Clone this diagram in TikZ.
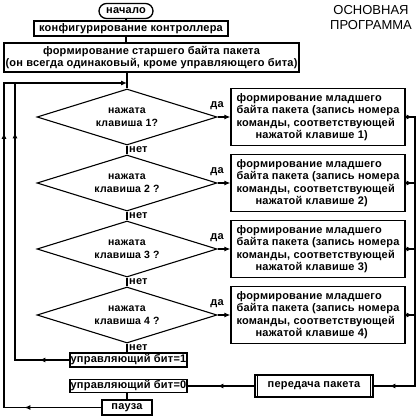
\documentclass[tikz,border=0pt]{standalone}
\usepackage{fontspec}
\setmainfont{Liberation Sans}[LetterSpace=2]
\newfontfamily\titlefont{Liberation Sans}
\usetikzlibrary{shapes.geometric,shapes.misc,arrows.meta,decorations.markings}
\begin{document}
\begin{tikzpicture}[x=1pt,y=-1pt,
  font=\fontsize{11}{12.4}\selectfont\bfseries,
  box/.style={draw,line width=1.3pt,inner sep=0pt,minimum height=15pt},
  dia/.style={draw,diamond,line width=1.1pt,inner sep=0pt,minimum width=180pt,minimum height=56pt},
  conn/.style={line width=1.1pt},
  tip/.style={-{Latex[length=6pt,width=5pt]}},
  marr/.style={postaction={decorate,decoration={markings,mark=at position #1 with {\arrow{Latex[length=6pt,width=5pt]}}}}},
  lab/.style={inner sep=0pt}
]
\useasboundingbox (0,0) rectangle (420,420);

\node[font=\titlefont\fontsize{13}{15}\selectfont,align=center] (title) at (371,17.5) {ОСНОВНАЯ\\ПРОГРАММА};

\node[box,rounded rectangle,minimum width=54pt] (start) at (126,11) {начало};
\node[box,minimum width=194pt] (cfg) at (131,28.5) {конфигурирование контроллера};
\node[box,minimum width=295pt,minimum height=29pt,align=center] (hi) at (151.5,57.5) {формирование старшего байта пакета\\(он всегда одинаковый, кроме управляющего бита)};

\draw[conn] (start.south) -- (start.south |- cfg.north);
\draw[conn] (cfg.south -| start.south) -- (hi.north -| start.south);

\coordinate (J) at (127,83);
\coordinate (LA) at (4,83);
\coordinate (LB) at (15,83);
\coordinate (Rtop) at (415,117);
\coordinate (Rbot) at (415,386);

\foreach \i/\y/\s in {1/117/1?,2/183/2 ?,3/249/3 ?,4/315/4 ?}{
  \node[dia] (d\i) at (127,\y) {};
  \node[lab,align=center,font=\fontsize{10.5}{12}\selectfont\bfseries] (t\i) at (127,\y) {нажата\\[1pt]клавиша \s};
  \node[box,minimum width=174pt,minimum height=57pt,align=left] (b\i) at (318,\y)
    {формирование младшего\\байта пакета (запись номера\\команды, соответствующей\\\hspace*{19pt}нажатой клавише \i)};
  \draw[conn,tip] (d\i.east) -- (b\i.west);
  \node[lab] (y\i) at (217,\y-11) {да};
  \node[lab,anchor=west] (n\i) at (129,\y+33) {нет};
}
\draw[conn] (hi.south -| d1.north) -- (d1.north);
\draw[conn] (d1.south) -- (d2.north);
\draw[conn] (d2.south) -- (d3.north);
\draw[conn] (d3.south) -- (d4.north);

\node[box,minimum width=117pt,minimum height=14pt] (c1) at (128.5,360) {управляющий бит=1};
\node[box,minimum width=117pt,minimum height=13pt] (c0) at (128.5,386) {управляющий бит=0};
\node[box,minimum width=50pt] (p) at (127,407.5) {пауза};
\node[box,minimum width=118pt,minimum height=22pt] (send) at (314,386) {передача пакета};
\draw[line width=1.3pt] ([xshift=3pt]send.north west) -- ([xshift=3pt]send.south west);
\draw[line width=1.3pt] ([xshift=-3pt]send.north east) -- ([xshift=-3pt]send.south east);

\draw[conn] (d4.south) -- (d4.south |- c1.north);
\draw[conn] (c0.south -| p.north) -- (p.north);

% right collector
\draw[conn,marr=7pt,marr=304pt] (b1.east) -- (Rtop) -- (Rbot) -- (send.east);
\draw[conn,marr=7pt] (b2.east) -- (b2.east -| Rtop);
\draw[conn,marr=7pt] (b3.east) -- (b3.east -| Rtop);
\draw[conn,marr=7pt] (b4.east) -- (b4.east -| Rtop);
\draw[conn,marr=37pt] (send.west) -- (c0.east);

% left loops
\draw[conn,tip,marr=77pt,marr=372pt] (p.west) -- (p.west -| LA) -- (LA) -- (J);
\draw[conn,marr=30pt,marr=282pt] (c1.west) -- (c1.west -| LB) -- (LB);
\end{tikzpicture}
\end{document}
